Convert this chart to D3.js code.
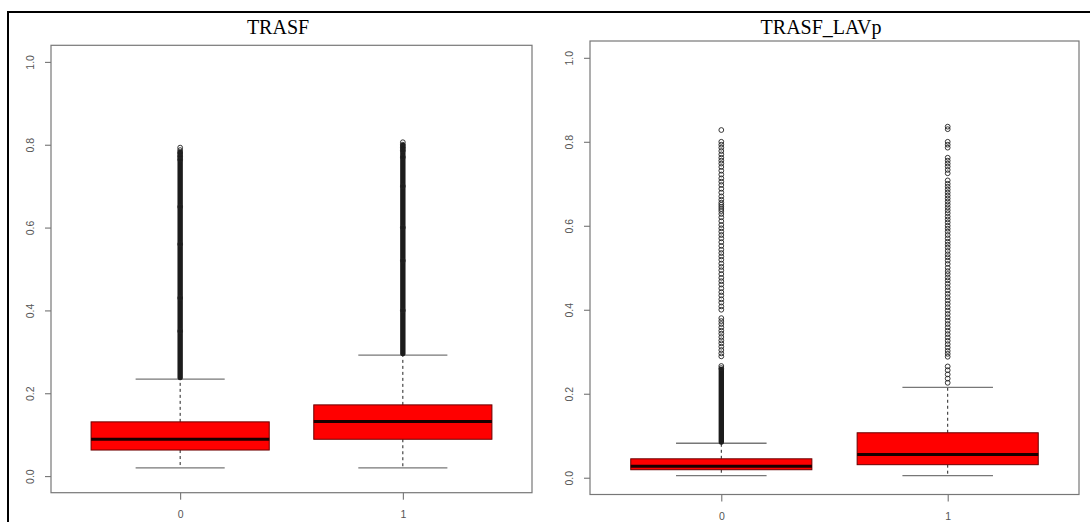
<!DOCTYPE html>
<html>
<head>
<meta charset="utf-8">
<style>
  body { margin: 0; background: #fff; }
  svg { display: block; background: #fff; }
  .tick text { font-family: 'Liberation Sans', Arial, sans-serif; font-size: 10.5px; fill: #555; }
  .tick line { stroke: #666; }
  .title { font-family: 'Liberation Serif', 'Times New Roman', serif; font-size: 20px; fill: #000; }
</style>
</head>
<body>
<svg id="chart" width="1090" height="522"></svg>
<script src="https://cdn.jsdelivr.net/npm/d3@7"></script>
<script>
const groups = ['0', '1'];
const titles = ['TRASF', 'TRASF_LAVp'];
const yTicks = [0, 0.2, 0.4, 0.6, 0.8, 1.0];

// [lower whisker, q1, median, q3, upper whisker] per group
const trasfStats = [
  [0.020, 0.063, 0.089, 0.131, 0.234],
  [0.020, 0.089, 0.132, 0.172, 0.292]
];
const lavpStats = [
  [0.005, 0.019, 0.027, 0.045, 0.082],
  [0.005, 0.031, 0.055, 0.107, 0.215]
];

// outlier runs so packed they print as one solid bar: [from, to]
const trasfDense = [[0.238, 0.782], [0.296, 0.798]];
const lavpDense = [[0.085, 0.258], null];

// single outliers that can still be told apart
const trasfOut0 = [0.793, 0.787, 0.780, 0.772, 0.764, 0.650, 0.560, 0.430, 0.350];
const trasfOut1 = [0.806, 0.800, 0.793, 0.786, 0.770, 0.700, 0.600, 0.520, 0.400];
const lavpOut0 = [0.828, 0.800, 0.793, 0.786, 0.778, 0.770, 0.762, 0.755, 0.748, 0.740,
  0.731, 0.722, 0.713, 0.705, 0.697, 0.688, 0.679, 0.670, 0.662, 0.655, 0.650, 0.645,
  0.640, 0.635, 0.628, 0.620, 0.611, 0.602, 0.594, 0.586, 0.578, 0.570, 0.561, 0.552,
  0.543, 0.535, 0.527, 0.519, 0.510, 0.502, 0.494, 0.485, 0.476, 0.468, 0.460, 0.451,
  0.442, 0.434, 0.425, 0.417, 0.408, 0.400, 0.380, 0.373, 0.366, 0.358, 0.350, 0.343,
  0.335, 0.327, 0.320, 0.312, 0.304, 0.296, 0.289, 0.266, 0.261];
const lavpOut1 = [0.836, 0.830, 0.800, 0.793, 0.786, 0.762, 0.755, 0.748, 0.741, 0.733,
  0.725, 0.708, 0.700, 0.693, 0.686, 0.679, 0.672, 0.665, 0.658, 0.651, 0.644, 0.637,
  0.630, 0.622, 0.615, 0.608, 0.600, 0.593, 0.586, 0.578, 0.570, 0.562, 0.555, 0.548,
  0.540, 0.532, 0.525, 0.517, 0.509, 0.500, 0.492, 0.485, 0.477, 0.470, 0.462, 0.454,
  0.446, 0.438, 0.430, 0.422, 0.414, 0.406, 0.398, 0.390, 0.382, 0.374, 0.366, 0.358,
  0.350, 0.342, 0.334, 0.326, 0.318, 0.310, 0.302, 0.295, 0.288, 0.265, 0.256, 0.246,
  0.236, 0.226];

const svg = d3.select('#chart');

// document frame (left and top rules)
svg.append('line').attr('x1', 8).attr('x2', 8).attr('y1', 11).attr('y2', 522)
  .attr('stroke', '#000').attr('stroke-width', 2);
svg.append('line').attr('x1', 7).attr('x2', 1090).attr('y1', 12).attr('y2', 12)
  .attr('stroke', '#000').attr('stroke-width', 2);

const panels = [
  { title: titles[0], stats: trasfStats, dense: trasfDense, outliers: [trasfOut0, trasfOut1],
    left: 51, top: 45.3, right: 532, bottom: 492.7, titleX: 278 },
  { title: titles[1], stats: lavpStats, dense: lavpDense, outliers: [lavpOut0, lavpOut1],
    left: 590, top: 41, right: 1079, bottom: 494.5, titleX: 821 }
];

panels.forEach(drawPanel);

function drawPanel(p) {
  const g = svg.append('g');

  // R style ranges: 4% padding on both axes
  const x = d3.scaleLinear().domain([0.42, 2.58]).range([p.left, p.right]);
  const y = d3.scaleLinear().domain([-0.04, 1.04]).range([p.bottom, p.top]);
  const boxW = x(1.4) - x(1);
  const capW = x(1.2) - x(1);

  g.append('text')
    .attr('class', 'title')
    .attr('x', p.titleX)
    .attr('y', 34)
    .attr('text-anchor', 'middle')
    .text(p.title);

  // y axis with labels turned parallel to the axis
  const yAxis = g.append('g')
    .attr('transform', `translate(${p.left},0)`)
    .call(d3.axisLeft(y).tickValues(yTicks).tickFormat(d3.format('.1f')).tickSize(6));
  yAxis.select('.domain').remove();
  yAxis.selectAll('.tick text')
    .attr('transform', 'rotate(-90)')
    .attr('x', 0)
    .attr('y', -17)
    .attr('dy', 0)
    .attr('text-anchor', 'middle');

  const xAxis = g.append('g')
    .attr('transform', `translate(0,${p.bottom})`)
    .call(d3.axisBottom(x).tickValues([1, 2]).tickFormat((d) => groups[d - 1]).tickSize(7));
  xAxis.select('.domain').remove();
  xAxis.selectAll('.tick text').attr('y', 25).attr('dy', 0);

  p.stats.forEach((s, i) => {
    const cx = x(i + 1);
    const [lo, q1, med, q3, hi] = s;

    // whiskers
    g.append('line')
      .attr('x1', cx).attr('x2', cx).attr('y1', y(q3)).attr('y2', y(hi))
      .attr('stroke', '#222').attr('stroke-dasharray', '3,3');
    g.append('line')
      .attr('x1', cx).attr('x2', cx).attr('y1', y(q1)).attr('y2', y(lo))
      .attr('stroke', '#222').attr('stroke-dasharray', '3,3');

    [lo, hi].forEach((v) => {
      g.append('line')
        .attr('x1', cx - capW).attr('x2', cx + capW)
        .attr('y1', y(v)).attr('y2', y(v))
        .attr('stroke', '#777').attr('stroke-width', 1.3);
    });

    g.append('rect')
      .attr('x', cx - boxW)
      .attr('y', y(q3))
      .attr('width', boxW * 2)
      .attr('height', y(q1) - y(q3))
      .attr('fill', '#ff0000')
      .attr('stroke', '#6b0000')
      .attr('stroke-width', 1);

    g.append('line')
      .attr('x1', cx - boxW).attr('x2', cx + boxW)
      .attr('y1', y(med)).attr('y2', y(med))
      .attr('stroke', '#1a0000').attr('stroke-width', 3);

    const run = p.dense[i];
    if (run) {
      g.append('rect')
        .attr('x', cx - 2.7)
        .attr('y', y(run[1]) - 2.7)
        .attr('width', 5.4)
        .attr('height', y(run[0]) - y(run[1]) + 5.4)
        .attr('rx', 2.7)
        .attr('fill', '#1c1c1c');
    }

    g.selectAll(null)
      .data(p.outliers[i])
      .join('circle')
      .attr('cx', cx)
      .attr('cy', (d) => y(d))
      .attr('r', 2.4)
      .attr('fill', 'none')
      .attr('stroke', '#222')
      .attr('stroke-width', 0.9);
  });

  // plot box on top
  g.append('rect')
    .attr('x', p.left)
    .attr('y', p.top)
    .attr('width', p.right - p.left)
    .attr('height', p.bottom - p.top)
    .attr('fill', 'none')
    .attr('stroke', '#777')
    .attr('stroke-width', 1.2);
}
</script>
</body>
</html>
